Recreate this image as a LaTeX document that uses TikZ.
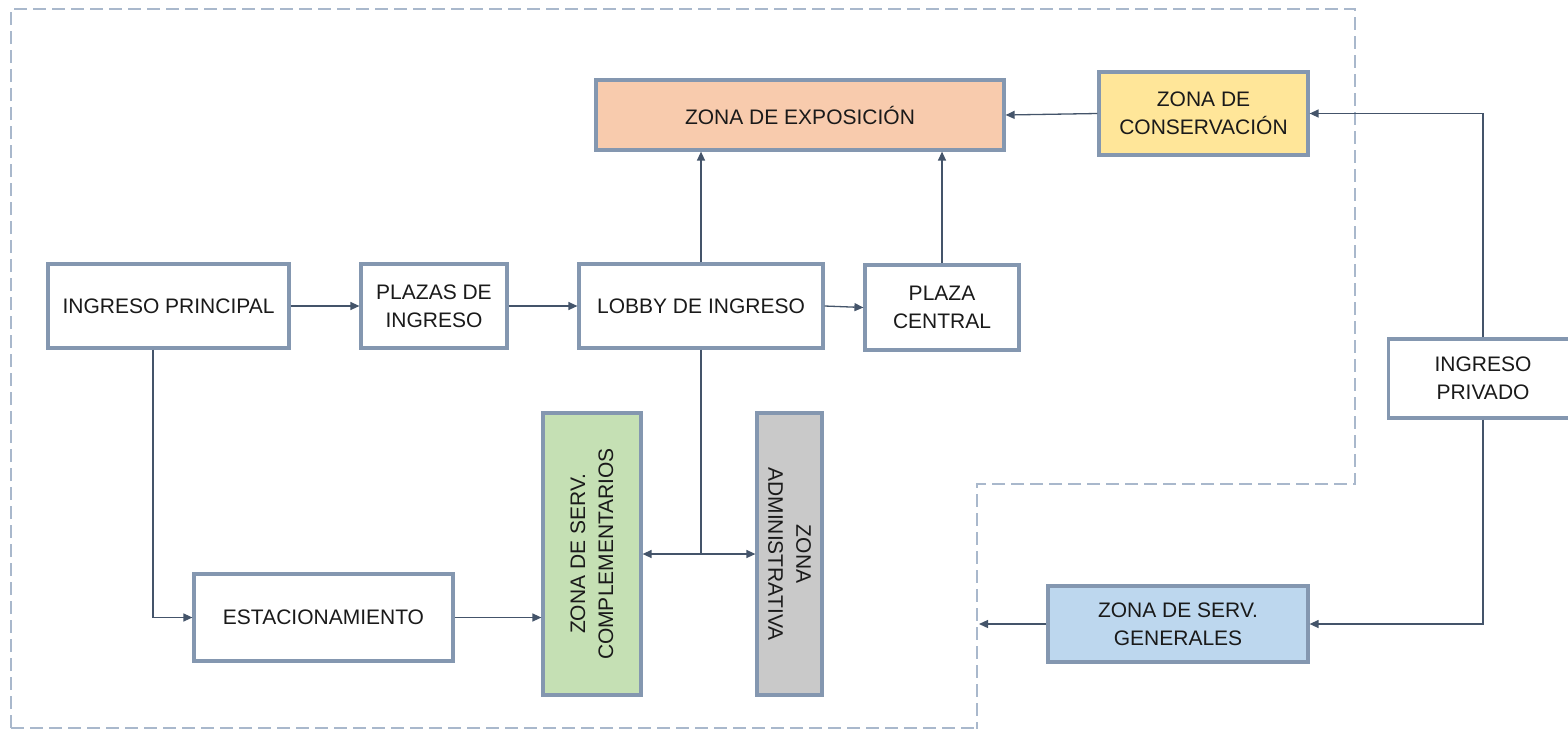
\documentclass[tikz,border=0pt]{standalone}
\usepackage{fontspec}
\setmainfont{Liberation Sans}
\usetikzlibrary{arrows.meta}
\definecolor{boxline}{HTML}{8497B0}
\definecolor{linkcol}{HTML}{44546A}
\definecolor{zonecol}{HTML}{A9B8CC}
\definecolor{fexpo}{HTML}{F8CBAD}
\definecolor{fcons}{HTML}{FFE699}
\definecolor{fcomp}{HTML}{C5E0B4}
\definecolor{fadm}{HTML}{C9C9C9}
\definecolor{fgen}{HTML}{BDD7EE}
\definecolor{txt}{HTML}{1A1A1A}
\tikzset{
  box/.style={draw=boxline, line width=3.2pt, fill=white, rectangle, inner sep=0pt,
    align=center, text=txt, font=\fontsize{21}{28}\selectfont},
  link/.style={draw=linkcol, line width=1.3pt, -{Triangle[length=9pt,width=8pt]}},
  plain/.style={draw=linkcol, line width=1.3pt},
  zone/.style={draw=zonecol, line width=1.5pt, dash pattern=on 13pt off 6pt}
}
\begin{document}
\begin{tikzpicture}[x=1pt,y=-1pt]
\useasboundingbox (0,0) rectangle (1568,729);
\begin{scope}
\clip (0,0) rectangle (1568,729);

% boundary of the public area
\draw[zone] (11,728) -- (11,9) -- (1355,9) -- (1355,484) -- (977,484) -- (977,729);
\draw[zone] (11,728) -- (977,728);

% zones
\node[box, fill=fexpo, minimum width=408pt, minimum height=70pt] (expo) at (800,115) {ZONA DE EXPOSICIÓN};
\node[box, fill=fcons, minimum width=209pt, minimum height=83pt] (cons) at (1203.5,113.5) {ZONA DE\\CONSERVACIÓN};
\node[box, minimum width=241pt, minimum height=84pt] (ingp) at (168.5,306) {INGRESO PRINCIPAL};
\node[box, minimum width=146pt, minimum height=84pt] (plazas) at (434,306) {PLAZAS DE\\INGRESO};
\node[box, minimum width=244pt, minimum height=84pt] (lobby) at (701,306) {LOBBY DE INGRESO};
\node[box, minimum width=154pt, minimum height=85pt] (pcent) at (942,307.5) {PLAZA\\CENTRAL};
\node[box, minimum width=189pt, minimum height=79pt] (ipriv) at (1483,378.5) {INGRESO\\PRIVADO};
\node[box, fill=fcomp, minimum width=98pt, minimum height=282pt] (comp) at (592,554) {};
\node[rotate=90, align=center, text=txt, font=\fontsize{21}{28}\selectfont] at (comp.center) {ZONA DE SERV.\\COMPLEMENTARIOS};
\node[box, fill=fadm, minimum width=65pt, minimum height=282pt] (adm) at (789.5,554) {};
\node[rotate=-90, align=center, text=txt, font=\fontsize{21}{28}\selectfont] at (adm.center) {ZONA\\ADMINISTRATIVA};
\node[box, minimum width=259pt, minimum height=87pt] (estac) at (323.5,617.5) {ESTACIONAMIENTO};
\node[box, fill=fgen, minimum width=260pt, minimum height=76pt] (sgen) at (1178,624) {ZONA DE SERV.\\GENERALES};

% circulation
\draw[link] (ingp.east) -- (plazas.west);
\draw[link] (plazas.east) -- (lobby.west);
\draw[link] (lobby.east) -- (pcent.west);
\draw[link] (lobby.north) -- (lobby.north |- expo.south);
\draw[link] (pcent.north) -- (pcent.north |- expo.south);
\draw[link] (cons.west) -- (expo.east);
\draw[link] (ipriv.north) |- (cons.east);
\draw[link] (ipriv.south) |- (sgen.east);
\coordinate (exitgen) at (979,624);
\draw[link] (sgen.west) -- (exitgen);
\draw[link] ([xshift=-15.5pt]ingp.south) |- (estac.west);
\draw[link] (estac.east) -- (comp.west |- estac.east);
\draw[plain] (lobby.south) -- (lobby.south |- comp.east) coordinate (hub);
\draw[link] (hub) -- (comp.east);
\draw[link] (hub) -- (adm.west);
\end{scope}
\end{tikzpicture}
\end{document}
